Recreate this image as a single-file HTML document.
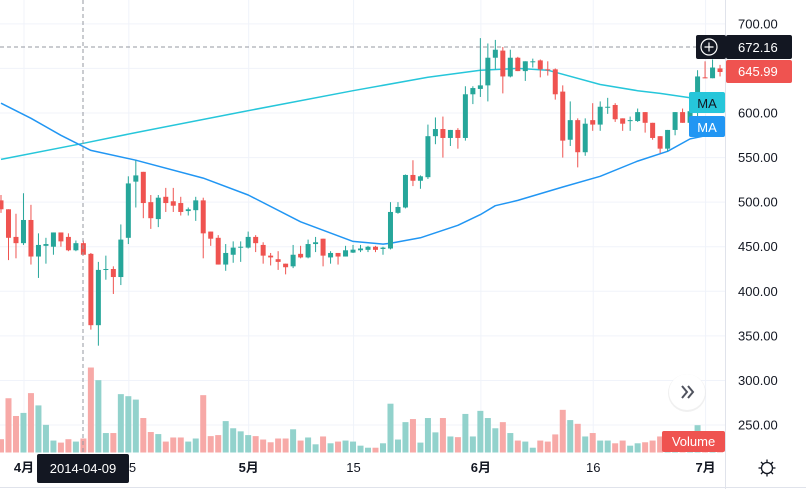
<!DOCTYPE html>
<html><head><meta charset="utf-8">
<style>
body{margin:0;background:#fff;width:806px;height:489px;overflow:hidden;font-family:"Liberation Sans","Noto Sans CJK SC",sans-serif;}
svg{position:absolute;left:0;top:0}
text{font-family:"Liberation Sans","Noto Sans CJK SC",sans-serif}
</style></head>
<body>
<svg id="chart" width="806" height="489" viewBox="0 0 806 489"></svg>
<script>
const opens=[502,492,461,454,480,439,451,450,466,461,446,454,442,362,424,425,416,460,523,534,500,481,506,501,499,490,491,502,467,460,430,441,449,449,461,452,440,436,431,428,442,438,453,459,438,443,439,443.4,446,446.5,450,447.5,448,488,494,530.5,524,528,574,582,572,581,572,621,627,631,662,670,641,662,647,657,659,649,649,624,570,592,556,592,587,606,609,594,591,591,601,589,574,560,581,601,589,601,640,639,650];
const highs=[508,492,487,510,497,465,460,466,466,465,457,457,443,433,440,428,475,529,547,534,508,508,516,516,506,494,506,505,467,463,453,456,456,467,463,455,443,445,431,452,451,458,461,459,445,443,451,452,452,451,451,450,500,500,531,547,530,587,595,596,581,583,630,630,684,678,682,674,671,663,658,661,660,658,650,631,613,594,594,611,613,617,611,594,596,605,601,589,574,581,601,605,612,648,658,660,654];
const lows=[488,435,437,452,430,415,431,441,450,445,445,441,357,339,413,397,407,453,494,482,470,472,489,489,485,485,479,437,451,430,423,432,433,448,444,431,429,424,419,426,437,437,444,428,431,430,439,443,444,444,444,441,447,487,493,518,515,526,565,550,563,560,569,610,618,613,649,622,640,647,636,651,640,642,615,550,563,539,552,580,580,599,590,580,580,590,578,570,555,557,575,589,588,595,639,639,641];
const closes=[492,460,454,480,439,452,453,466,456,446,454,441,362,424,425,416,458,521,530,499,482,505,499,496,489,492,502,465,459,430,443,449,450,461,454,440,438,433,427,441,438,453,455,440,443,439,446,446.7,448,450,446.5,449,489,494.6,530.5,524,529,574,582,572,581,572,621,628,631,662,671,641,662,647,658,658,649,648,621,569,592,556,588,587,607,607,593,588,592,601,589,572,560,581,601,589,602,641,639,651,645.99];
const volumes=[39,159,107,116,174,138,81,35,29,39,32,41,249,212,57,57,171,165,155,101,60,54,32,44,44,32,41,168,48,51,92,71,62,51,48,38,30,41,41,68,35,44,24,47,27,32,35,32,20,14,14,27,143,38,89,98,29,101,59,101,47,45,113,47,122,101,71,89,57,35,32,14,35,32,53,125,95,84,47,57,35,35,27,35,20,27,30,35,47,40,45,50,40,80,30,30,20];
const maSlowIdx=[1,12,19,33,48,58,65,70,74,81,86,89,93,97];
const maSlowVals=[548,566,578,601,625,640,648,650,648,632,625,622,617,614];
const maFastIdx=[1,5,9,13,19,28,34,41,48,52,53,57,62,65,67,70,76,81,86,90,93,97];
const maFastVals=[611,594,575,558,547,527,508,478,456,453,454,460,474,486,496,502,517,529,546,557,571,578];
const priceTicks=[700,600,550,500,450,400,350,300,250];
const timeLabels=["4月","15","5月","15","6月","16","7月"];
const timeLabelDay=[3,17,33,47,64,79,94];
const timeLabelBold=[true,false,true,false,true,false,true];

const NS="http://www.w3.org/2000/svg";
const svg=document.getElementById('chart');
const PW=725;
function xOf(i){return 1+i*7.49;}
function xDay(d){return xOf(d-1)+8;}
function yOf(p){return 113+(600-p)*0.8915;}
function vH(v){return v/2.93;}
const VBASE=452.5;
function mk(tag,attrs,parent){const e=document.createElementNS(NS,tag);for(const k in attrs)e.setAttribute(k,attrs[k]);(parent||svg).appendChild(e);return e;}

const grid=mk('g',{});


priceTicks.forEach(p=>{mk('line',{x1:0,x2:PW,y1:yOf(p),y2:yOf(p),stroke:'#f0f3fa','stroke-width':1},grid);});
mk('line',{x1:0,x2:PW,y1:yOf(650),y2:yOf(650),stroke:'#f0f3fa','stroke-width':1},grid);
timeLabelDay.forEach(d=>{const x=xDay(d);mk('line',{x1:x,x2:x,y1:0,y2:453,stroke:'#f0f3fa','stroke-width':1},grid);});

const vg=mk('g',{});


volumes.forEach((v,i)=>{
  const up=closes[i]>=opens[i];
  const r=mk('rect',{x:xOf(i)-3,y:VBASE-vH(v),width:6,height:vH(v),fill:up?'#92d2cc':'#f7a9a7'},vg);
  
  
});

function maPath(idx,vals,color,name){
  let d='';idx.forEach((k,j)=>{d+=(j?'L':'M')+xOf(k-1).toFixed(1)+' '+yOf(vals[j]).toFixed(1);});
  const p=mk('path',{d:d,fill:'none',stroke:color,'stroke-width':1.5,'stroke-linejoin':'round'});
  
  
}
maPath(maSlowIdx,maSlowVals,'#26c6da','ma-slow-line');
maPath(maFastIdx,maFastVals,'#2196f3','ma-fast-line');

const cg=mk('g',{});


opens.forEach((o,i)=>{
  const c=closes[i],up=c>=o,col=up?'#26a69a':'#ef5350',x=xOf(i);
  const g=mk('g',{},cg);
  
  
  mk('line',{x1:x,x2:x,y1:yOf(highs[i]),y2:yOf(lows[i]),stroke:col,'stroke-width':1},g);
  const t=yOf(Math.max(o,c)),b=yOf(Math.min(o,c));
  mk('rect',{x:x-2.5,y:t,width:5,height:Math.max(1,b-t),fill:col},g);
});

const ch=mk('g',{});


mk('line',{x1:83,x2:83,y1:0,y2:453,stroke:'#9598a1','stroke-dasharray':'4,3'},ch);
mk('line',{x1:0,x2:PW,y1:47,y2:47,stroke:'#9598a1','stroke-dasharray':'4,3'},ch);

mk('line',{x1:725.5,x2:725.5,y1:0,y2:489,stroke:'#e0e3eb'});
mk('line',{x1:0,x2:806,y1:487.5,y2:487.5,stroke:'#e0e3eb'});

const pa=mk('g',{});


priceTicks.forEach(p=>{const t=mk('text',{x:738,y:yOf(p)+4.5,'font-size':13,fill:'#131722'},pa);t.textContent=p.toFixed(2);});

const ta=mk('g',{});


timeLabels.forEach((s,j)=>{const t=mk('text',{x:xDay(timeLabelDay[j]),y:472,'font-size':13,fill:'#131722','text-anchor':'middle','font-weight':timeLabelBold[j]?'bold':'normal'},ta);t.textContent=s;});

const cpl=mk('g',{});


mk('rect',{x:696,y:35,width:30,height:24,rx:2,fill:'#131722'},cpl);
mk('circle',{cx:709,cy:47,r:8,fill:'none',stroke:'#fff','stroke-width':1.2},cpl);
mk('path',{d:'M704.5 47h9M709 42.5v9',stroke:'#fff','stroke-width':1.2},cpl);
mk('rect',{x:726,y:35,width:66,height:24,rx:2,fill:'#131722'},cpl);
let tt=mk('text',{x:738,y:52,'font-size':13,fill:'#fff'},cpl);tt.textContent='672.16';
const lpl=mk('g',{});


mk('rect',{x:726,y:60,width:66,height:23,rx:2,fill:'#ef5350'},lpl);
tt=mk('text',{x:738,y:76,'font-size':13,fill:'#fff'},lpl);tt.textContent='645.99';
const m1=mk('g',{});


mk('rect',{x:689,y:92,width:36,height:21,rx:2,fill:'#26c6da'},m1);
tt=mk('text',{x:707,y:108,'font-size':13,fill:'#131722','text-anchor':'middle'},m1);tt.textContent='MA';
const m2=mk('g',{});


mk('rect',{x:689,y:116,width:36,height:21,rx:2,fill:'#2196f3'},m2);
tt=mk('text',{x:707,y:132,'font-size':13,fill:'#fff','text-anchor':'middle'},m2);tt.textContent='MA';
const vl=mk('g',{});


mk('rect',{x:662,y:431,width:63,height:21,rx:2,fill:'#ef5350'},vl);
tt=mk('text',{x:693.5,y:446,'font-size':13,fill:'#fff','text-anchor':'middle'},vl);tt.textContent='Volume';
const dl=mk('g',{});


mk('rect',{x:37,y:454,width:92,height:29,rx:2,fill:'#131722'},dl);
tt=mk('text',{x:83,y:473,'font-size':13,fill:'#fff','text-anchor':'middle'},dl);tt.textContent='2014-04-09';
const sb=mk('g',{});


mk('circle',{cx:687,cy:393,r:19,fill:'#e6e6e6',opacity:0.6},sb);
mk('circle',{cx:687,cy:392,r:18,fill:'#fff'},sb);
mk('path',{d:'M682 386l5 6-5 6M688 386l5 6-5 6',fill:'none',stroke:'#50535e','stroke-width':2},sb);
const gr=mk('g',{});


mk('circle',{cx:767,cy:468,r:5.5,fill:'none',stroke:'#131722','stroke-width':1.3},gr);
for(let a=0;a<8;a++){const r=a*Math.PI/4;mk('line',{x1:767+5.5*Math.cos(r),y1:468+5.5*Math.sin(r),x2:767+8.5*Math.cos(r),y2:468+8.5*Math.sin(r),stroke:'#131722','stroke-width':1.3},gr);}
</script>
</body></html>
